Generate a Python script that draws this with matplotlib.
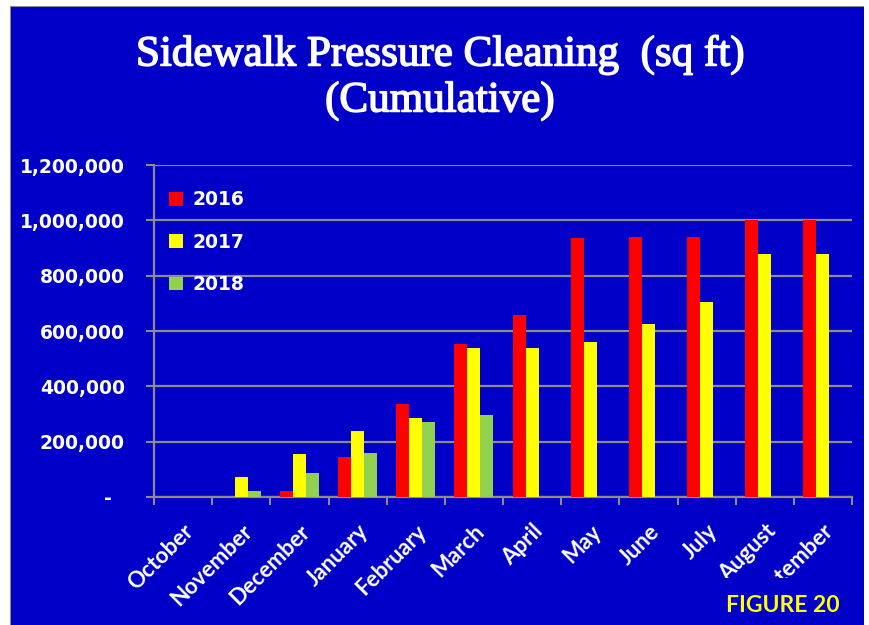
import numpy as np
import matplotlib.pyplot as plt
import matplotlib.patheffects as pe
from matplotlib.patches import Rectangle
from matplotlib.ticker import FuncFormatter, FixedLocator

months = ['October', 'November', 'December', 'January', 'February', 'March',
          'April', 'May', 'June', 'July', 'August', 'September']
years = ['2016', '2017', '2018']

sqft_2016 = [0, 0, 23000, 146000, 336000, 553000, 658000, 935000, 941000, 941000, 1000000, 1000000]
sqft_2017 = [0, 73000, 155000, 237000, 284000, 540000, 540000, 559000, 625000, 704000, 877000, 877000]
sqft_2018 = [0, 23000, 87000, 159000, 270000, 297000, np.nan, np.nan, np.nan, np.nan, np.nan, np.nan]

colors = ['#FF0000', '#FFFF00', '#92D050']
blue = '#0000C8'
grey = '#8C8C8C'

fig = plt.figure(figsize=(8.69, 6.25), dpi=100)
fig.patch.set_facecolor('white')
# blue slide background with thin grey edge top/left
fig.patches.append(Rectangle((11/869, 0), 853/869, 1 - 7/625, transform=fig.transFigure,
                             facecolor=blue, edgecolor='none', zorder=-2))
fig.patches.append(Rectangle((10/869, 0), 1/869, 1 - 6/625, transform=fig.transFigure,
                             facecolor=grey, edgecolor='none', zorder=-2))
fig.patches.append(Rectangle((10/869, 1 - 7/625), 854/869, 1/625, transform=fig.transFigure,
                             facecolor=grey, edgecolor='none', zorder=-2))

ax = fig.add_axes([154/869, 1 - 497/625, 698/869, 332/625])
ax.set_facecolor(blue)
ax.patch.set_alpha(0)

x = np.arange(len(months))
w = 0.223
for i, (vals, c, lab) in enumerate(zip([sqft_2016, sqft_2017, sqft_2018], colors, years)):
    ax.bar(x + (i - 1) * w, vals, width=w, color=c, label=lab, zorder=3)

ax.set_xlim(-0.5, 11.5)
ax.set_ylim(0, 1200000)
ax.set_yticks(np.arange(0, 1200001, 200000))
ax.yaxis.set_major_formatter(FuncFormatter(lambda v, p: '-  ' if v == 0 else '{:,.0f}'.format(v)))
ax.grid(axis='y', color=grey, linewidth=1.6, zorder=1)

ax.set_xticks(x)
ax.set_xticklabels(months, rotation=45, ha='right', rotation_mode='anchor',
                   fontfamily='Lato', fontweight='bold', fontsize=16, color='white')
ax.xaxis.set_minor_locator(FixedLocator(np.arange(-0.5, 12, 1)))
ax.tick_params(axis='x', which='major', length=0, pad=17)
ax.tick_params(axis='x', which='minor', length=6, width=1.5, color=grey)
ax.tick_params(axis='y', length=5.5, width=1.5, color=grey, pad=15.5, labelcolor='white', labelsize=13.5)
for t in ax.get_yticklabels():
    t.set_fontweight('bold')

for s in ['top', 'right']:
    ax.spines[s].set_visible(False)
for s in ['left', 'bottom']:
    ax.spines[s].set_color(grey)
    ax.spines[s].set_linewidth(1.6)

leg = ax.legend(loc='upper left', bbox_to_anchor=(-0.003, 0.975), frameon=False,
                handlelength=0.75, handleheight=0.75, handletextpad=0.5, labelspacing=1.25,
                prop={'weight': 'bold', 'size': 13.5})
for t in leg.get_texts():
    t.set_color('white')

title_fx = [pe.withStroke(linewidth=1.1, foreground='white')]
fig.text(0.506, 0.912, 'Sidewalk Pressure Cleaning  (sq ft)', ha='center', va='center',
         color='white', fontsize=31, fontfamily='Liberation Serif', path_effects=title_fx)
fig.text(0.506, 0.838, '(Cumulative)', ha='center', va='center',
         color='white', fontsize=31, fontfamily='Liberation Serif', path_effects=title_fx)

# box of the figure tag hides part of the last month label
fig.patches.append(Rectangle((725/869, 7/625), 139/869, (625 - 578 - 7)/625, transform=fig.transFigure,
                             facecolor=blue, edgecolor='none', zorder=5))
fig.text(783/869, 1 - 605/625, 'FIGURE 20', ha='center', va='center', color='#FFFF00',
         fontsize=16.5, fontweight='bold', fontfamily='Lato', zorder=6)

fig.savefig('out.png', dpi=100, facecolor=fig.get_facecolor())
